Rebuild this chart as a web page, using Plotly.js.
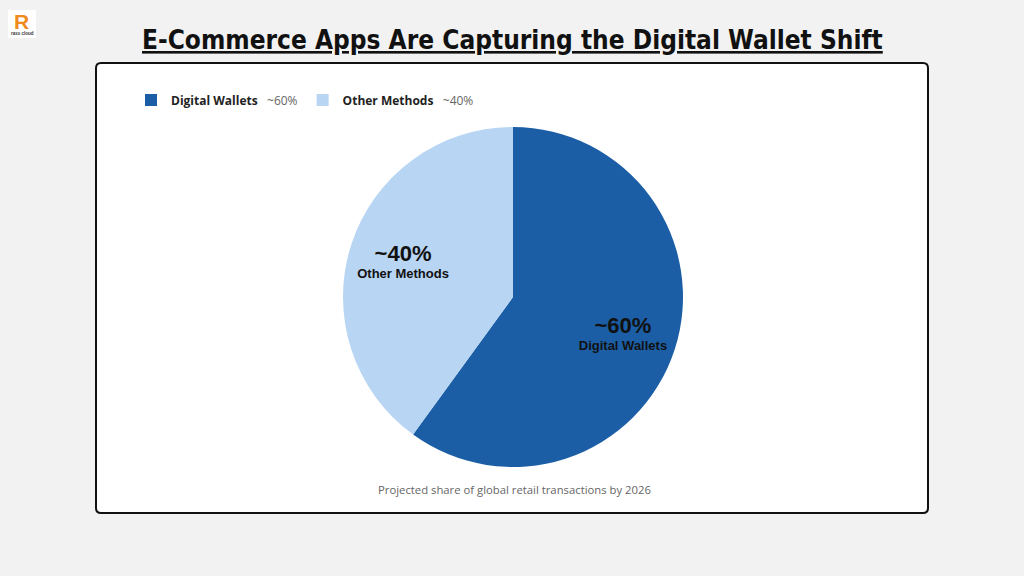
<!DOCTYPE html>
<html>
<head>
<meta charset="utf-8">
<script src="https://cdn.plot.ly/plotly-3.0.1.min.js"></script>
<style>html,body{margin:0;padding:0;background:#f2f2f2;}#chart{width:1024px;height:576px;}</style>
</head>
<body>
<div id="chart"></div>
<script>
const categories = ['Digital Wallets', 'Other Methods'];
const values = [60, 40];
const shareLabels = ['~60%', '~40%'];
const colors = ['#1b5ea6', '#b8d5f3'];
const chartTitle = 'E-Commerce Apps Are Capturing the Digital Wallet Shift';
const subtitle = 'Projected share of global retail transactions by 2026';

const W = 1024, H = 576;
const px = x => x / W;
const py = y => 1 - y / H;

// rounded white card
const x0 = 96, x1 = 928, y0 = 63, y1 = 513, r = 5;
const cardPath = [
  `M ${px(x0 + r)} ${py(y0)}`,
  `L ${px(x1 - r)} ${py(y0)}`,
  `Q ${px(x1)} ${py(y0)} ${px(x1)} ${py(y0 + r)}`,
  `L ${px(x1)} ${py(y1 - r)}`,
  `Q ${px(x1)} ${py(y1)} ${px(x1 - r)} ${py(y1)}`,
  `L ${px(x0 + r)} ${py(y1)}`,
  `Q ${px(x0)} ${py(y1)} ${px(x0)} ${py(y1 - r)}`,
  `L ${px(x0)} ${py(y0 + r)}`,
  `Q ${px(x0)} ${py(y0)} ${px(x0 + r)} ${py(y0)} Z`
].join(' ');

const legendLabels = categories.map((c, i) =>
  `<b>${c}</b>&nbsp;&nbsp;&nbsp;<span style="color:#666;font-weight:normal">${shareLabels[i]}</span>`);

const pieDomain = { x: [px(343), px(683)], y: [py(467), py(127)] };

// filled slices + legend
const trace = {
  type: 'pie',
  labels: legendLabels,
  values: values,
  marker: { colors: colors, line: { color: '#ffffff', width: 0 } },
  sort: false,
  direction: 'clockwise',
  rotation: 0,
  textinfo: 'none',
  hoverinfo: 'none',
  domain: pieDomain
};

// transparent ring carrying the slice labels, so they sit further out
const labelTrace = {
  type: 'pie',
  labels: legendLabels,
  values: values,
  customdata: categories.map((c, i) => [shareLabels[i], c]),
  marker: { colors: ['rgba(0,0,0,0)', 'rgba(0,0,0,0)'], line: { width: 0 } },
  hole: 0.36,
  sort: false,
  direction: 'clockwise',
  rotation: 0,
  showlegend: false,
  textinfo: 'text',
  texttemplate: '<span style="font-size:22px">%{customdata[0]}</span><br>%{customdata[1]}',
  textposition: 'inside',
  insidetextorientation: 'horizontal',
  insidetextfont: { family: 'Liberation Sans, Arial, sans-serif', size: 13, color: '#111', weight: 'bold' },
  hoverinfo: 'none',
  domain: pieDomain
};

const layout = {
  width: W, height: H,
  margin: { l: 0, r: 0, t: 0, b: 0 },
  paper_bgcolor: '#f2f2f2',
  plot_bgcolor: '#f2f2f2',
  showlegend: true,
  legend: {
    orientation: 'h',
    x: px(131), y: py(100), xanchor: 'left', yanchor: 'middle',
    font: { family: 'Open Sans, Noto Sans, sans-serif', size: 12, color: '#222' },
    bgcolor: 'rgba(0,0,0,0)',
    itemclick: false, itemdoubleclick: false
  },
  shapes: [
    { type: 'path', xref: 'paper', yref: 'paper', path: cardPath,
      fillcolor: '#ffffff', line: { color: '#111111', width: 2 }, layer: 'below' },
    { type: 'rect', xref: 'paper', yref: 'paper',
      x0: px(8), x1: px(36), y0: py(38), y1: py(10),
      fillcolor: '#ffffff', line: { width: 0 }, layer: 'below' }
  ],
  annotations: [
    { text: `<u><b>${chartTitle}</b></u>`, xref: 'paper', yref: 'paper',
      x: px(512), y: py(40), xanchor: 'center', yanchor: 'middle', showarrow: false,
      font: { family: 'DejaVu Sans Condensed, Liberation Sans Narrow, sans-serif', size: 26, color: '#111' } },
    { text: subtitle, xref: 'paper', yref: 'paper',
      x: px(514), y: py(489), xanchor: 'center', yanchor: 'middle', showarrow: false,
      font: { family: 'Open Sans, Noto Sans, sans-serif', size: 11.3, color: '#666' } },
    { text: '<b>R</b>', xref: 'paper', yref: 'paper',
      x: px(21), y: py(21), xanchor: 'center', yanchor: 'middle', showarrow: false,
      font: { family: 'Liberation Sans, sans-serif', size: 21, color: '#f08a1c' } },
    { text: '<b>rass cloud</b>', xref: 'paper', yref: 'paper',
      x: px(22), y: py(33.5), xanchor: 'center', yanchor: 'middle', showarrow: false,
      font: { family: 'Liberation Sans, sans-serif', size: 4.5, color: '#333' } }
  ]
};

Plotly.newPlot('chart', [trace, labelTrace], layout, { displayModeBar: false, staticPlot: true });
</script>
</body>
</html>
